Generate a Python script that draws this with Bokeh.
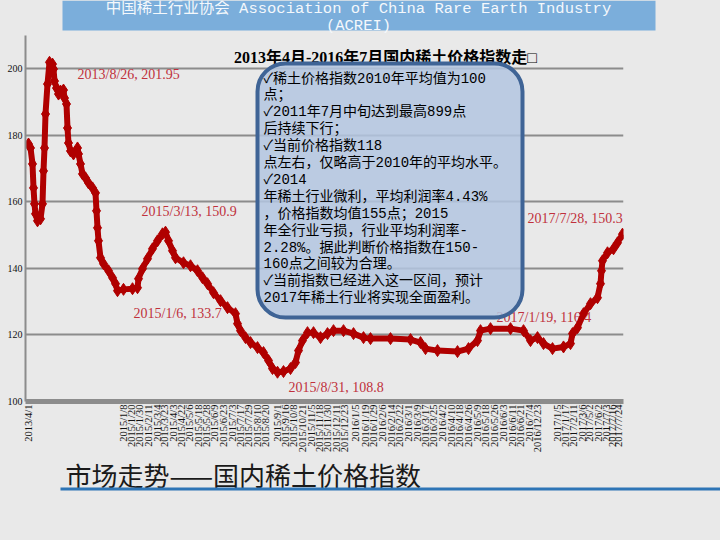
import math
from bokeh.plotting import figure
from bokeh.models import Range1d, FixedTicker, Label, BoxAnnotation, ColumnDataSource
from bokeh.embed import file_html
from bokeh.resources import INLINE
from bokeh.core.properties import value

# ---------------- data ----------------
obs_idx = [0, 2, 4, 5, 6, 7, 9, 12, 14, 15, 16, 17, 19, 21, 24, 25, 26, 28, 30, 32,
           35, 36, 38, 39, 40, 42, 45, 49, 50, 52, 54, 57, 60, 64, 67, 68, 69, 70, 72, 75,
           80, 84, 87, 89, 95, 104, 109, 110, 114, 119, 124, 129, 134, 137, 140, 144, 147, 155, 162, 169,
           174, 179, 185, 192, 199, 207, 209, 212, 217, 222, 229, 235, 240, 244, 249, 255, 262, 267, 270, 274,
           279, 285, 292, 299, 305, 315, 325, 335, 342, 362, 382, 392, 397, 409, 429, 440, 449, 452, 462, 482,
           495, 502, 509, 515, 524, 535, 542, 544, 549, 555, 562, 569, 572, 573, 574, 579, 585, 589, 594]
price_index = [177.4, 176.2, 171.4, 164.2, 159.4, 156.4, 154.3, 154.9, 159.4, 169.3, 176.2, 186.4, 195.4, 201.95, 201.4, 199.9, 196.3, 194.2, 192.4, 193.3,
               193.6, 191.2, 189.4, 182.2, 177.7, 175.3, 174.4, 176.2, 174.4, 171.4, 168.4, 167.2, 165.7, 164.2, 162.7, 157.3, 152.2, 148.3, 143.2, 141.4,
               139.3, 137.2, 135.4, 133.3, 133.7, 133.9, 134.2, 136.9, 139.9, 142.9, 145.9, 148.3, 150.4, 150.9, 148.3, 145.3, 143.2, 141.7, 140.8, 139.3,
               137.2, 135.4, 132.7, 130.3, 128.2, 126.4, 123.4, 121.3, 119.2, 117.7, 116.2, 114.7, 112.3, 109.9, 108.8, 109.0, 109.9, 111.7, 115.3, 118.3,
               120.7, 120.7, 119.2, 120.4, 121.3, 121.3, 120.4, 119.2, 118.9, 118.9, 118.6, 117.7, 115.9, 115.3, 115.0, 115.9, 118.3, 121.3, 121.9, 121.9,
               121.3, 118.3, 119.2, 117.4, 115.9, 116.4, 117.4, 120.4, 122.2, 126.4, 129.4, 131.2, 135.4, 139.3, 142.3, 144.7, 145.9, 147.7, 150.3]

tick_pos = [0, 95, 103, 111, 120, 129, 136, 145, 153, 161, 170, 178, 186, 195, 204, 212, 220, 229, 237,
            249, 257, 265, 274, 283, 291, 299, 308, 316, 327, 337, 345, 354, 363, 371, 380, 389, 397, 405,
            414, 423, 431, 440, 449, 457, 466, 475, 484, 492, 501, 509, 529, 537, 545, 554, 561, 570, 578, 584, 590]
tick_labels = ["2013/4/1", "2015/1/8", "2015/1/20", "2015/1/30", "2015/2/11", "2015/3/4", "2015/3/23", "2015/4/3",
               "2015/4/22", "2015/5/6", "2015/5/18", "2015/5/28", "2015/6/9", "2015/6/23", "2015/7/3", "2015/7/17",
               "2015/7/29", "2015/8/10", "2015/8/20", "2015/9/1", "2015/9/16", "2015/10/8", "2015/10/21", "2015/11/5",
               "2015/11/18", "2015/11/30", "2015/12/11", "2015/12/23", "2016/1/5", "2016/1/19", "2016/1/29", "2016/2/6",
               "2016/2/14", "2016/2/22", "2016/3/1", "2016/3/9", "2016/3/17", "2016/3/25", "2016/4/2", "2016/4/10",
               "2016/4/18", "2016/4/26", "2016/5/9", "2016/5/18", "2016/5/26", "2016/6/3", "2016/6/11", "2016/6/21",
               "2016/7/4", "2016/12/23", "2017/1/5", "2017/1/17", "2017/2/11", "2017/3/6", "2017/5/2", "2017/6/2",
               "2017/7/3", "2017/7/16", "2017/7/24"]
y_ticks = [100, 120, 140, 160, 180, 200]

point_labels = ["2013/8/26, 201.95", "2015/3/13, 150.9", "2015/1/6, 133.7", "2015/8/31, 108.8", "2017/7/28, 150.3"]
inline_label = "2017/1/19, 116.4"

title_text = "2013年4月-2016年7月国内稀土价格指数走□"
banner_lines = ["中国稀土行业协会 Association of China Rare Earth Industry", "(ACREI)"]
bottom_title = "市场走势——国内稀土价格指数"
note_lines = ["✓稀土价格指数2010年平均值为100", "点；", "✓2011年7月中旬达到最高899点", "后持续下行；",
              "✓当前价格指数118", "点左右，仅略高于2010年的平均水平。", "✓2014",
              "年稀土行业微利，平均利润率4.43%", "，价格指数均值155点；2015",
              "年全行业亏损，行业平均利润率-", "2.28%。据此判断价格指数在150-",
              "160点之间较为合理。", "✓当前指数已经进入这一区间，预计", "2017年稀土行业将实现全面盈利。"]

# ---------------- layout ----------------
W = 720
TOP_H, BOT_H = 34, 90
MAIN_Y0 = TOP_H  # page y of the main figure's top edge

def dx(px):
    return px - 28

def dy(py):
    return 100 + (401 - py) * 110.0 / 366.0

BG = "#E9E9E9"
RED = "#B00000"
LBL = "#C0313C"
CJK = "'Liberation Mono', 'Noto Sans CJK SC'"


def deco_figure(h):
    f = figure(width=W, height=h, x_range=Range1d(0, W), y_range=Range1d(h, 0),
               output_backend="svg", toolbar_location=None,
               x_axis_location=None, y_axis_location=None,
               min_border=0, min_border_left=0, min_border_right=0, min_border_top=0, min_border_bottom=0,
               background_fill_color=BG, border_fill_color=BG, outline_line_color=None)
    f.xgrid.grid_line_color = None
    f.ygrid.grid_line_color = None
    return f

# banner
top = deco_figure(TOP_H)
top.quad(left=[62], right=[655], top=[0], bottom=[30], fill_color="#7BAEDB", line_color=None)
top.text(x=[358, 358], y=[8, 25], text=banner_lines, text_align="center", text_baseline="middle",
         text_font=value(CJK), text_font_size="15.5px", text_color="#F4F8FC")

# main chart: fixed frame 598 x 366 (page x 25..623, y 35..401)
p = figure(frame_width=598, frame_height=366, x_range=Range1d(-3, 595), y_range=Range1d(100, 210),
           output_backend="svg", toolbar_location=None,
           min_border_left=25, min_border_right=W - 623, min_border_top=35 - MAIN_Y0,
           min_border_bottom=0,
           background_fill_color=BG, border_fill_color=BG, outline_line_color=None)

p.xgrid.grid_line_color = None
p.ygrid.ticker = FixedTicker(ticks=y_ticks)
p.ygrid.grid_line_color = "#8C8C8C"
p.ygrid.grid_line_width = 2

p.xaxis.ticker = FixedTicker(ticks=tick_pos)
p.xaxis.major_label_overrides = {t: l for t, l in zip(tick_pos, tick_labels)}
p.xaxis.major_label_orientation = math.pi / 2
p.xaxis.major_label_text_font = "Liberation Serif"
p.xaxis.major_label_text_font_size = "10.5px"
p.xaxis.major_label_text_color = "#111111"
p.xaxis.major_label_standoff = 3
p.xaxis.axis_line_color = "#8C8C8C"
p.xaxis.axis_line_width = 5

p.yaxis.ticker = FixedTicker(ticks=y_ticks)
p.yaxis.major_label_text_font = "Liberation Serif"
p.yaxis.major_label_text_font_size = "10px"
p.yaxis.major_label_text_color = "#111111"
p.yaxis.major_label_standoff = 3
p.yaxis.axis_line_color = "#8C8C8C"
p.yaxis.axis_line_width = 2

for ax in (p.xaxis, p.yaxis):
    ax.major_tick_line_color = None
    ax.minor_tick_line_color = None
    ax.major_tick_out = 0
    ax.major_tick_in = 0
    ax.minor_tick_out = 0
    ax.minor_tick_in = 0

# label partly covered by the line (drawn first)
p.text(x=[dx(496)], y=[dy(317)], text=[inline_label], text_color=LBL,
       text_font=value("Liberation Serif"), text_font_size="14px", text_baseline="middle")

src = ColumnDataSource(dict(x=obs_idx, y=price_index))
p.line("x", "y", source=src, line_color=RED, line_width=6)
p.scatter("x", "y", source=src, marker="diamond", size=12, color=RED)

label_pos = [(77, 74), (141, 211), (133, 313), (288, 387), (527, 218)]
for txt, (lx, ly) in zip(point_labels, label_pos):
    p.add_layout(Label(x=dx(lx), y=dy(ly), text=txt, text_color=LBL, text_font="Liberation Serif",
                       text_font_size="14px", text_baseline="middle"))

p.add_layout(Label(x=dx(385), y=dy(57), text=title_text, text_align="center", text_baseline="middle",
                   text_font="'Liberation Serif', 'Noto Sans CJK SC'", text_font_style="bold",
                   text_font_size="16px", text_color="#000000"))

p.add_layout(BoxAnnotation(left=dx(257), right=dx(522), top=dy(63), bottom=dy(317),
                           fill_color="#B3C6E0", fill_alpha=0.85, line_color="#3F6496",
                           line_width=4, line_alpha=1, border_radius=28))
for i, ln in enumerate(note_lines):
    p.add_layout(Label(x=dx(263), y=dy(78 + i * 16.9), text=ln, text_baseline="middle",
                       text_font=CJK, text_font_size="14px", text_color="#000000"))

# bottom title
bot = deco_figure(BOT_H)
bot.text(x=[65], y=[19], text=[bottom_title], text_baseline="middle",
         text_font=value("Noto Sans CJK SC"), text_font_size="26px", text_color="#1A1A1A")
bot.quad(left=[60], right=[W], top=[32], bottom=[35], fill_color="#2E75B6", line_color=None)

# three independent roots, stacked (no frame alignment between them)
html = file_html([top, p, bot], INLINE)
html = html.replace("</head>", "<style>html, body { background-color: #E9E9E9; overflow: hidden; }</style>\n</head>", 1)
open("out.html", "w").write(html)
